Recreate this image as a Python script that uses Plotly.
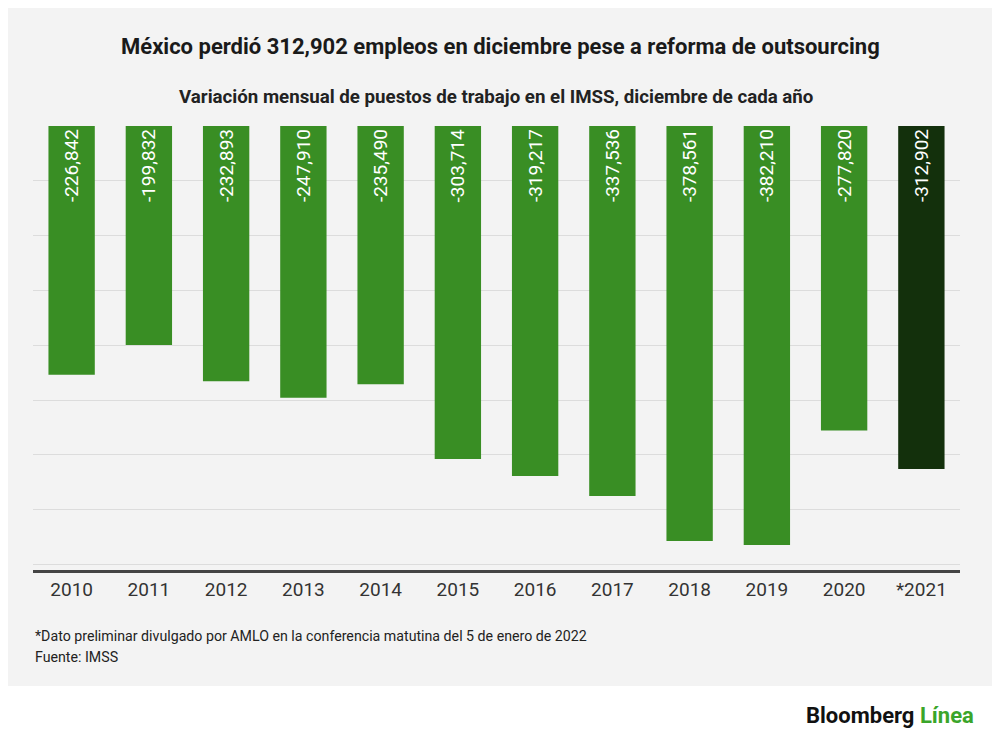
import plotly.graph_objs as go

# Data
years = ["2010", "2011", "2012", "2013", "2014", "2015", "2016", "2017", "2018", "2019", "2020", "*2021"]
jobs = [-226842, -199832, -232893, -247910, -235490, -303714, -319217, -337536, -378561, -382210, -277820, -312902]
labels = [f"{v:,}" for v in jobs]
colors = ["#398e24"] * 11 + ["#13300c"]

# page puts the figure 8px in from the top-left corner
OFF = 8
W, H = 1000 - OFF, 742 - OFF
m_t, m_b, m_l, m_r = 126 - OFF, 172, 33 - OFF, 40
ph = H - m_t - m_b
pw = W - m_l - m_r


def py(y):
    # screen y (reference coords) -> paper y
    return (H - (y - OFF) - m_b) / ph


def px(x):
    return (x - OFF - m_l) / pw


fig = go.Figure()
fig.add_trace(go.Bar(x=years, y=jobs, text=labels, marker=dict(color=colors, line=dict(width=0)),
                     textposition="inside", insidetextanchor="start", textangle=-90,
                     textfont=dict(color="white", size=19, family="Roboto"),
                     cliponaxis=False))

fig.update_yaxes(range=[-405000, 0], dtick=50000, showticklabels=False,
                 showgrid=True, gridcolor="#dcdcdc", gridwidth=1, zeroline=False)
fig.update_xaxes(showline=True, linecolor="#444444", linewidth=3,
                 tickfont=dict(size=19, color="#333333", family="Roboto"), ticks="")

fig.update_layout(
    width=W, height=H,
    margin=dict(t=m_t, b=m_b, l=m_l, r=m_r),
    paper_bgcolor="white", plot_bgcolor="rgba(0,0,0,0)",
    bargap=0.4, showlegend=False,
    font=dict(family="Roboto", color="#222222"),
    shapes=[dict(type="rect", xref="paper", yref="paper", layer="below",
                 x0=-m_l / pw, x1=1 + m_r / pw,
                 y0=py(686), y1=1 + m_t / ph,
                 fillcolor="#f3f3f3", line=dict(width=0))],
    annotations=[
        dict(text="<b>México perdió 312,902 empleos en diciembre pese a reforma de outsourcing</b>",
             xref="paper", yref="paper", x=px(500), y=py(47),
             showarrow=False, font=dict(size=22, color="#1a1a1a"), xanchor="center", yanchor="middle"),
        dict(text="<b>Variación mensual de puestos de trabajo en el IMSS, diciembre de cada año</b>",
             xref="paper", yref="paper", x=px(496), y=py(97),
             showarrow=False, font=dict(size=18.7, color="#222222"), xanchor="center", yanchor="middle"),
        dict(text="*Dato preliminar divulgado por AMLO en la conferencia matutina del 5 de enero de 2022",
             xref="paper", yref="paper", x=px(33), y=py(636),
             showarrow=False, font=dict(size=14.2, color="#222222"), xanchor="left", yanchor="middle"),
        dict(text="Fuente: IMSS",
             xref="paper", yref="paper", x=px(33), y=py(657),
             showarrow=False, font=dict(size=14.2, color="#222222"), xanchor="left", yanchor="middle"),
        dict(text="<b>Bloomberg</b> <b><span style='color:#3aa52a'>Línea</span></b>",
             xref="paper", yref="paper", x=px(976), y=py(715),
             showarrow=False, font=dict(size=22, color="#111111", family="Roboto"), xanchor="right", yanchor="middle"),
    ],
)

fig.write_html("out.html")
